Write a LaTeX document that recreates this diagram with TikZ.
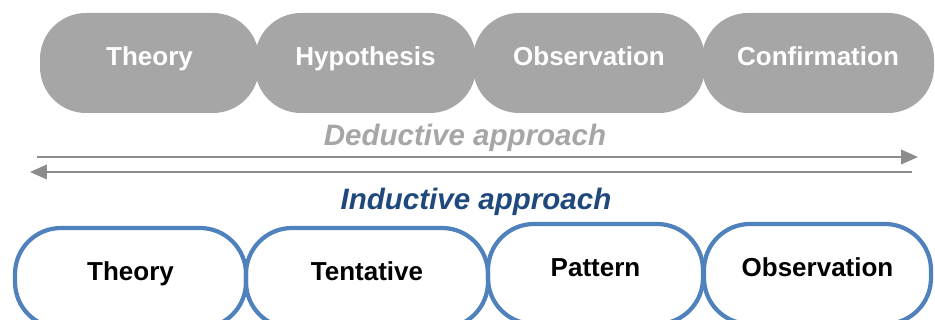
\documentclass[tikz,border=0pt]{standalone}
\usepackage{fontspec}
\setmainfont{Liberation Sans}
\usetikzlibrary{arrows.meta}
\definecolor{boxgray}{HTML}{A6A6A6}
\definecolor{linegray}{HTML}{8C8C8C}
\definecolor{boxblue}{HTML}{4F81BD}
\definecolor{darkblue}{HTML}{1F497D}
\begin{document}
\begin{tikzpicture}[
	topbox/.style={fill=boxgray,text=white,rounded corners=1.15cm,minimum height=2.5cm,inner sep=0pt,text height=0.5cm,text depth=0.35cm,font=\fontsize{18.5}{20}\selectfont\bfseries},
	botbox/.style={draw=boxblue,line width=3pt,rounded corners=1.15cm,minimum height=2.5cm,inner sep=0pt,text height=0.5cm,text depth=0.35cm,font=\fontsize{18.5}{20}\selectfont\bfseries},
	approach/.style={anchor=base,font=\fontsize{21}{24}\selectfont\bfseries\itshape},
	flow/.style={draw=linegray,line width=1.5pt,-{Triangle[length=0.42cm,width=0.36cm]}}]
				\useasboundingbox (0,0) rectangle (23.375,8);
				\node[topbox,minimum width=5.475cm] (dtheory) at (3.7375,6.425) {Theory};
				\node[topbox,minimum width=5.525cm] (dhyp) at (9.1375,6.425) {Hypothesis};
				\node[topbox,minimum width=5.8cm] (dobs) at (14.725,6.425) {Observation};
				\node[topbox,minimum width=5.8cm] (dconf) at (20.45,6.425) {Confirmation};
				\node[approach,text=boxgray] (ded) at (11.625,4.35) {Deductive approach};
				\coordinate (dstart) at (0.925,4.075);
				\coordinate (dend) at (22.95,4.075);
				\draw[flow] (dstart) -- (dend);
				\coordinate (istart) at (22.8,3.7);
				\coordinate (iend) at (0.75,3.7);
				\draw[flow] (istart) -- (iend);
				\node[approach,text=darkblue] (ind) at (11.9,2.7625) {Inductive approach};
				\node[botbox,minimum width=5.775cm] (itheory) at (3.2625,1.05) {Theory};
				\node[botbox,minimum width=6.05cm] (itent) at (9.175,1.05) {Tentative};
				\node[botbox,minimum width=5.375cm] (ipat) at (14.8875,1.15) {Pattern};
				\node[botbox,minimum width=5.675cm] (iobs) at (20.4375,1.15) {Observation};
			\end{tikzpicture}
\end{document}
